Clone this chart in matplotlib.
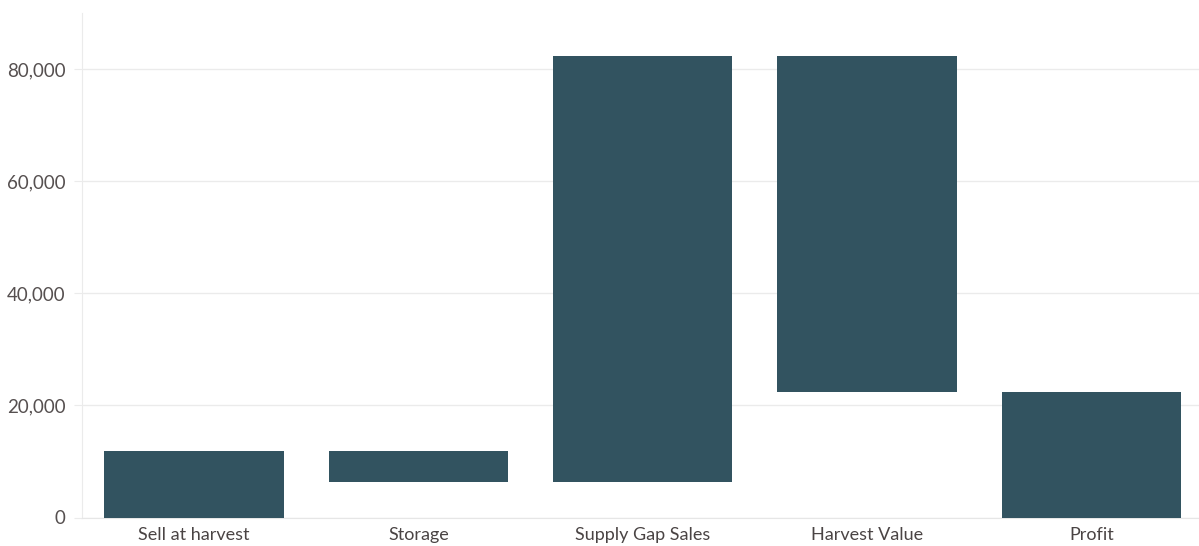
import matplotlib
matplotlib.use("Agg")
import matplotlib.pyplot as plt
from matplotlib.ticker import FuncFormatter

categories = ["Sell at harvest", "Storage", "Supply Gap Sales", "Harvest Value", "Profit"]
bar_bottoms = [0, 6300, 6300, 22400, 0]
bar_tops = [11900, 11900, 82400, 82400, 22400]
yticks = [0, 20000, 40000, 60000, 80000]

plt.rcParams['font.family'] = ['Lato', 'DejaVu Sans']

fig = plt.figure(figsize=(11.99, 5.46), dpi=100)
ax = fig.add_axes([82/1199, 28.5/546, 1 - 82/1199, (517.5-13)/546])

heights = [t - b for t, b in zip(bar_tops, bar_bottoms)]
x = list(range(len(categories)))
ax.bar(x, heights, bottom=bar_bottoms, width=0.8, color="#325360", zorder=3)

ax.set_xlim(-0.5, 4.48)
ax.set_ylim(0, 90000)
ax.set_yticks(yticks)
ax.yaxis.set_major_formatter(FuncFormatter(lambda v, p: f"{int(v):,}"))
ax.set_xticks(x)
ax.set_xticklabels(categories)

ax.grid(axis="y", color="#ebebeb", linewidth=1, zorder=0)
for s in ["top", "right"]:
    ax.spines[s].set_visible(False)
ax.spines["left"].set_color("#ebebeb")
ax.spines["bottom"].set_color("#e6e6e6")
ax.tick_params(axis="y", length=6, color="#ebebeb", labelsize=13.5, labelcolor="#565050", pad=6)
ax.tick_params(axis="x", length=0, labelsize=13, labelcolor="#4a4444", pad=7)

fig.savefig("out.png", dpi=100)
